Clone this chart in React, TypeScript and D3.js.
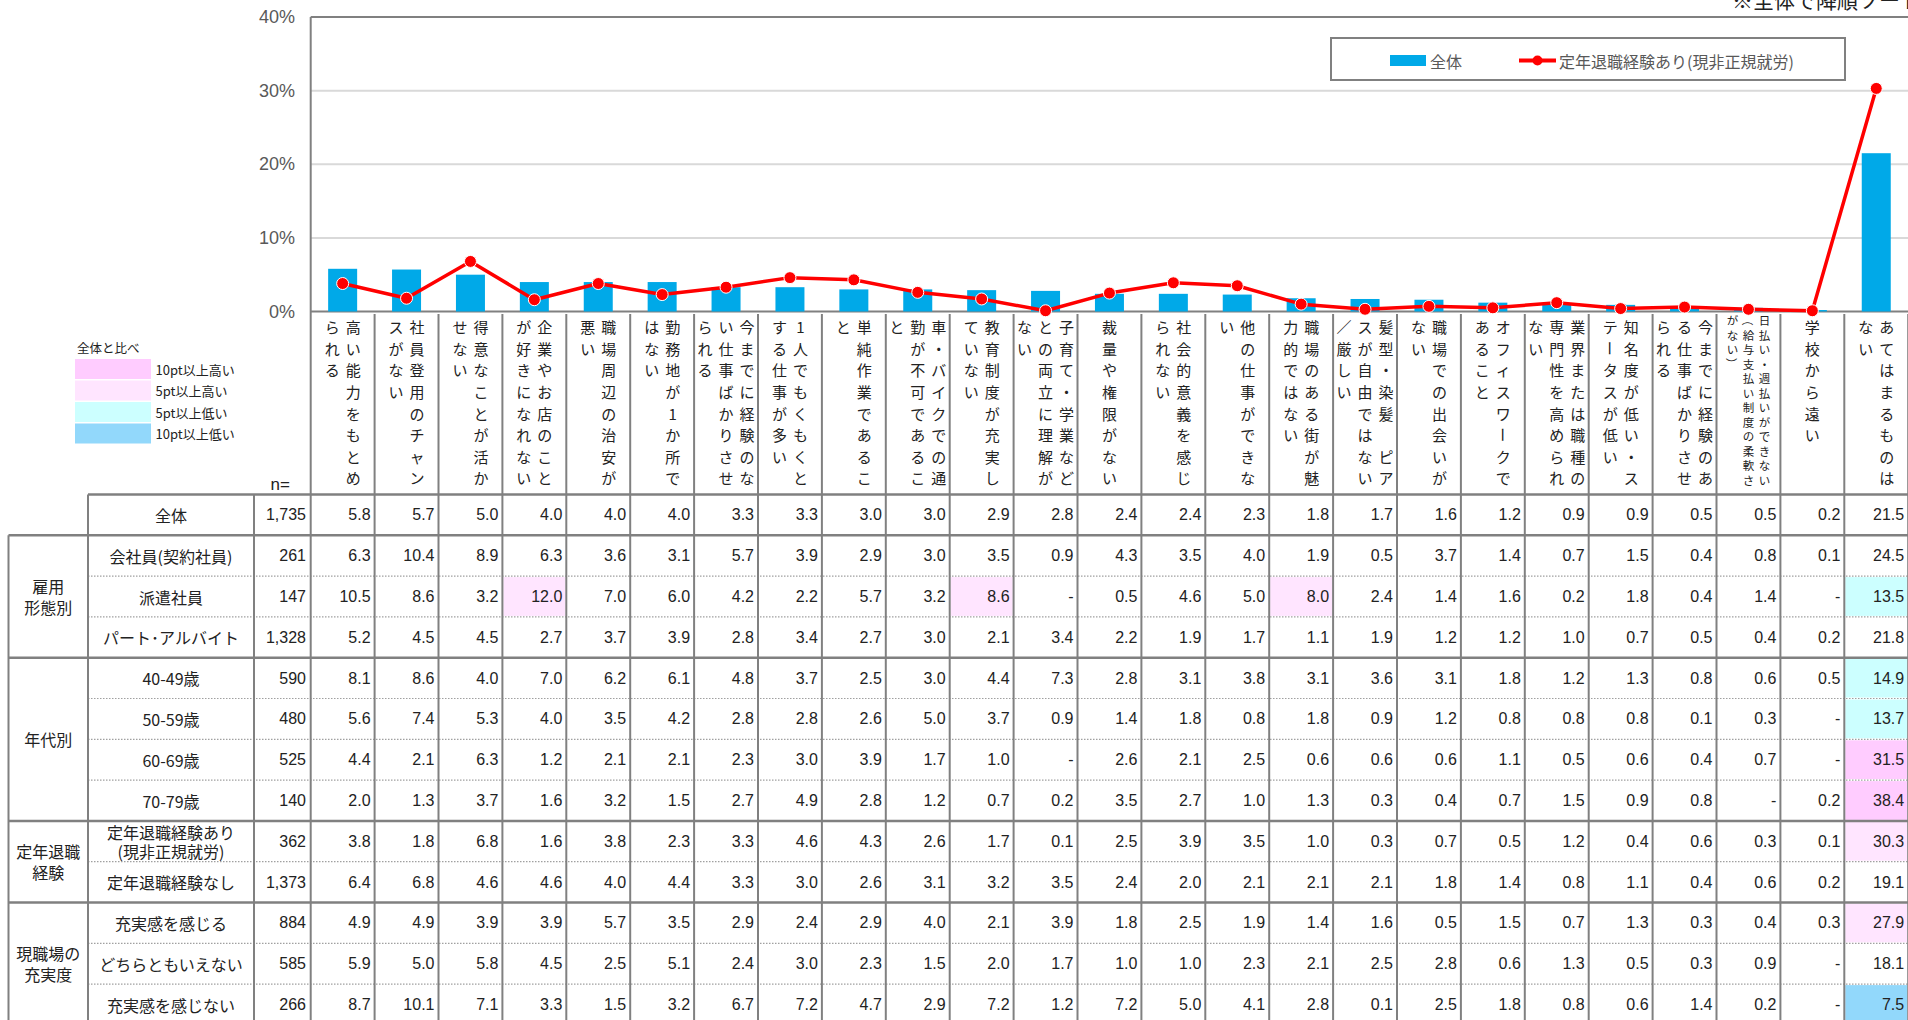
import { useEffect } from "react"
import * as d3 from "d3"

// categories, sorted by 全体 (descending) as in the source
const categories = [
  "高い能力をもとめられる",
  "社員登用のチャンスがない",
  "得意なことが活かせない",
  "企業やお店のことが好きになれない",
  "職場周辺の治安が悪い",
  "勤務地が1か所ではない",
  "今までに経験のない仕事ばかりさせられる",
  "1人でもくもくとする仕事が多い",
  "単純作業であること",
  "車・バイクでの通勤が不可であること",
  "教育制度が充実していない",
  "子育て・学業などとの両立に理解がない",
  "裁量や権限がない",
  "社会的意義を感じられない",
  "他の仕事ができない",
  "職場のある街が魅力的ではない",
  "髪型・染髪　ピアスが自由ではない／厳しい",
  "職場での出会いがない",
  "オフィスワークであること",
  "業界または職種の専門性を高められない",
  "知名度が低い・ステータスが低い",
  "今までに経験のある仕事ばかりさせられる",
  "日払い・週払いができない（給与支払い制度の柔軟さがない）",
  "学校から遠い",
  "あてはまるものはない",
]

const yTicks = [0, 10, 20, 30, 40]

// table rows (null = "-")
const valsAll = [5.8, 5.7, 5.0, 4.0, 4.0, 4.0, 3.3, 3.3, 3.0, 3.0, 2.9, 2.8, 2.4, 2.4, 2.3, 1.8, 1.7, 1.6, 1.2, 0.9, 0.9, 0.5, 0.5, 0.2, 21.5]
const valsKeiyaku = [6.3, 10.4, 8.9, 6.3, 3.6, 3.1, 5.7, 3.9, 2.9, 3.0, 3.5, 0.9, 4.3, 3.5, 4.0, 1.9, 0.5, 3.7, 1.4, 0.7, 1.5, 0.4, 0.8, 0.1, 24.5]
const valsHaken = [10.5, 8.6, 3.2, 12.0, 7.0, 6.0, 4.2, 2.2, 5.7, 3.2, 8.6, null, 0.5, 4.6, 5.0, 8.0, 2.4, 1.4, 1.6, 0.2, 1.8, 0.4, 1.4, null, 13.5]
const valsPart = [5.2, 4.5, 4.5, 2.7, 3.7, 3.9, 2.8, 3.4, 2.7, 3.0, 2.1, 3.4, 2.2, 1.9, 1.7, 1.1, 1.9, 1.2, 1.2, 1.0, 0.7, 0.5, 0.4, 0.2, 21.8]
const vals40 = [8.1, 8.6, 4.0, 7.0, 6.2, 6.1, 4.8, 3.7, 2.5, 3.0, 4.4, 7.3, 2.8, 3.1, 3.8, 3.1, 3.6, 3.1, 1.8, 1.2, 1.3, 0.8, 0.6, 0.5, 14.9]
const vals50 = [5.6, 7.4, 5.3, 4.0, 3.5, 4.2, 2.8, 2.8, 2.6, 5.0, 3.7, 0.9, 1.4, 1.8, 0.8, 1.8, 0.9, 1.2, 0.8, 0.8, 0.8, 0.1, 0.3, null, 13.7]
const vals60 = [4.4, 2.1, 6.3, 1.2, 2.1, 2.1, 2.3, 3.0, 3.9, 1.7, 1.0, null, 2.6, 2.1, 2.5, 0.6, 0.6, 0.6, 1.1, 0.5, 0.6, 0.4, 0.7, null, 31.5]
const vals70 = [2.0, 1.3, 3.7, 1.6, 3.2, 1.5, 2.7, 4.9, 2.8, 1.2, 0.7, 0.2, 3.5, 2.7, 1.0, 1.3, 0.3, 0.4, 0.7, 1.5, 0.9, 0.8, null, 0.2, 38.4]
const valsTeinenAri = [3.8, 1.8, 6.8, 1.6, 3.8, 2.3, 3.3, 4.6, 4.3, 2.6, 1.7, 0.1, 2.5, 3.9, 3.5, 1.0, 0.3, 0.7, 0.5, 1.2, 0.4, 0.6, 0.3, 0.1, 30.3]
const valsTeinenNashi = [6.4, 6.8, 4.6, 4.6, 4.0, 4.4, 3.3, 3.0, 2.6, 3.1, 3.2, 3.5, 2.4, 2.0, 2.1, 2.1, 2.1, 1.8, 1.4, 0.8, 1.1, 0.4, 0.6, 0.2, 19.1]
const valsJujitsu = [4.9, 4.9, 3.9, 3.9, 5.7, 3.5, 2.9, 2.4, 2.9, 4.0, 2.1, 3.9, 1.8, 2.5, 1.9, 1.4, 1.6, 0.5, 1.5, 0.7, 1.3, 0.3, 0.4, 0.3, 27.9]
const valsDochira = [5.9, 5.0, 5.8, 4.5, 2.5, 5.1, 2.4, 3.0, 2.3, 1.5, 2.0, 1.7, 1.0, 1.0, 2.3, 2.1, 2.5, 2.8, 0.6, 1.3, 0.5, 0.3, 0.9, null, 18.1]
const valsNoJujitsu = [8.7, 10.1, 7.1, 3.3, 1.5, 3.2, 6.7, 7.2, 4.7, 2.9, 7.2, 1.2, 7.2, 5.0, 4.1, 2.8, 0.1, 2.5, 1.8, 0.8, 0.6, 1.4, 0.2, null, 7.5]

const rowLabels = [
  "全体", "会社員(契約社員)", "派遣社員", "パート･アルバイト",
  "40-49歳", "50-59歳", "60-69歳", "70-79歳",
  "定年退職経験あり\n(現非正規就労)", "定年退職経験なし",
  "充実感を感じる", "どちらともいえない", "充実感を感じない",
]
const rowN = ["1,735", "261", "147", "1,328", "590", "480", "525", "140", "362", "1,373", "884", "585", "266"]
const tableValues = [valsAll, valsKeiyaku, valsHaken, valsPart, vals40, vals50, vals60, vals70, valsTeinenAri, valsTeinenNashi, valsJujitsu, valsDochira, valsNoJujitsu]

const groups = [
  { name: "雇用\n形態別", from: 1, to: 3 },
  { name: "年代別", from: 4, to: 7 },
  { name: "定年退職\n経験", from: 8, to: 9 },
  { name: "現職場の\n充実度", from: 10, to: 12 },
]

const shadeLegend = [
  { label: "10pt以上高い", color: "#ffccff" },
  { label: "5pt以上高い", color: "#ffe5ff" },
  { label: "5pt以上低い", color: "#ccffff" },
  { label: "10pt以上低い", color: "#92d8fb" },
]

const W = 1908
const H = 1020
const JP = "'Noto Sans CJK JP', 'Noto Sans', sans-serif"
const NUM = "'Liberation Sans', Arial, sans-serif"

function shade(v: number | null, base: number | null) {
  if (v == null || base == null) return null
  const d = Math.round((v - base) * 10) / 10
  if (d >= 10) return shadeLegend[0].color
  if (d >= 5) return shadeLegend[1].color
  if (d <= -10) return shadeLegend[3].color
  if (d <= -5) return shadeLegend[2].color
  return null
}

export default function App() {
  useEffect(() => {
    document.body.style.margin = "0"
    document.body.style.overflow = "hidden"
  }, [])

  const dataLeft = 310.7
  const colW = 63.9
  const x = d3.scaleBand<number>().domain(d3.range(categories.length)).range([dataLeft, dataLeft + colW * categories.length])
  const bw = x.bandwidth()
  const y = d3.scaleLinear().domain([0, 40]).range([311.5, 17])

  const tableTop = 494.5
  const rowH = 40.8
  const tableBottom = tableTop + rowH * rowLabels.length
  const outerX = 8.5
  const subX = 88
  const nX = 254

  const line = d3
    .line<number>()
    .x((_, i) => x(i)! + bw / 2)
    .y((d) => y(d))

  const groupEdges = new Set([1, 4, 8, 10, 13])
  const gridColor = "#d9d9d9"
  const border = "#808080"

  return (
    <svg width={W} height={H} style={{ position: "absolute", left: 0, top: 0, display: "block", background: "#fff" }} fontFamily={JP}>
      {/* note */}
      <text x={1732} y={8} fontSize={21} fill="#222">※全体で降順ソート</text>

      {/* gridlines */}
      {yTicks.slice(1, -1).map((t) => (
        <line key={t} x1={dataLeft} x2={W} y1={y(t)} y2={y(t)} stroke={gridColor} strokeWidth={2} />
      ))}
      <line x1={dataLeft} x2={W} y1={y(40)} y2={y(40)} stroke={border} strokeWidth={2} />
      <line x1={dataLeft} x2={W} y1={y(0)} y2={y(0)} stroke={border} strokeWidth={2} />
      {yTicks.map((t) => (
        <text key={t} x={295} y={y(t)} textAnchor="end" dominantBaseline="central" fontSize={18} fill="#595959" fontFamily={NUM}>
          {t}%
        </text>
      ))}

      {/* bars */}
      {valsAll.map((v, i) => (
        <rect key={i} x={x(i)! + bw / 2 - 14.5} y={y(v)} width={29} height={y(0) - y(v)} fill="#00a9e8" />
      ))}

      {/* line */}
      <path d={line(valsTeinenAri)!} fill="none" stroke="#ff0000" strokeWidth={3.5} strokeLinejoin="round" />
      {valsTeinenAri.map((v, i) => (
        <circle key={i} cx={x(i)! + bw / 2} cy={y(v)} r={6} fill="#ff0000" stroke="#fff" strokeWidth={1} />
      ))}

      {/* chart legend */}
      <rect x={1331} y={38} width={514} height={42} fill="#fff" stroke={border} strokeWidth={2} />
      <rect x={1390} y={55} width={36} height={11} fill="#00a9e8" />
      <text x={1430} y={60.5} dominantBaseline="central" fontSize={16} fill="#595959">全体</text>
      <line x1={1519} x2={1556} y1={60.5} y2={60.5} stroke="#ff0000" strokeWidth={4} />
      <circle cx={1537.5} cy={60.5} r={5} fill="#ff0000" />
      <text x={1559} y={60.5} dominantBaseline="central" fontSize={16} fill="#595959">定年退職経験あり(現非正規就労)</text>

      {/* shading legend */}
      <text x={77} y={347} dominantBaseline="central" fontSize={12.5} fill="#222">全体と比べ</text>
      {shadeLegend.map((s, i) => (
        <g key={s.label}>
          <rect x={75} y={359 + i * 21.5} width={76} height={20} fill={s.color} />
          <text x={155.5} y={369 + i * 21.5} dominantBaseline="central" fontSize={13} fill="#222">{s.label}</text>
        </g>
      ))}

      {/* vertical category labels */}
      {categories.map((label, i) => {
        const chars = [...label]
        const per = chars.length > 24 ? 12 : 8
        const small = per === 12
        const cols = d3.range(Math.ceil(chars.length / per)).map((k) => chars.slice(k * per, (k + 1) * per))
        const pitchX = small ? 16 : 21
        const pitchY = small ? 14.5 : 21.6
        const y0 = small ? 320 : 326.7
        const cx = x(i)! + bw / 2
        return (
          <g key={label}>
            {cols.flatMap((col, j) =>
              col.map((ch, k) => {
                const px = cx + ((cols.length - 1) / 2 - j) * pitchX
                const py = y0 + k * pitchY
                const rot = "ー（）".includes(ch)
                return (
                  <text
                    key={`${j}-${k}`}
                    x={px}
                    y={py}
                    textAnchor="middle"
                    dominantBaseline="central"
                    fontSize={small ? 11.5 : 15}
                    fill="#222"
                    transform={rot ? `rotate(90 ${px} ${py})` : undefined}
                  >
                    {ch}
                  </text>
                )
              })
            )}
          </g>
        )
      })}

      {/* n= */}
      <text x={290} y={484} textAnchor="end" dominantBaseline="central" fontSize={17} fill="#222" fontFamily={NUM}>n=</text>

      {/* cell shading */}
      {tableValues.map((row, r) =>
        row.map((v, c) => {
          const fill = shade(v, valsAll[c])
          return fill ? (
            <rect key={`${r}-${c}`} x={x(c)! + 1} y={tableTop + r * rowH + 1} width={bw - 2} height={rowH - 2} fill={fill} />
          ) : null
        })
      )}

      {/* table values */}
      {tableValues.map((row, r) => (
        <g key={r}>
          {row.map((v, c) => (
            <text key={c} x={x(c)! + bw - 4} y={tableTop + r * rowH + rowH / 2} textAnchor="end" dominantBaseline="central" fontSize={16} fill="#222" fontFamily={NUM}>
              {v == null ? "-" : v.toFixed(1)}
            </text>
          ))}
          <text x={nX + 52} y={tableTop + r * rowH + rowH / 2} textAnchor="end" dominantBaseline="central" fontSize={16} fill="#222" fontFamily={NUM}>
            {rowN[r]}
          </text>
          {rowLabels[r].split("\n").map((t, k, arr) => (
            <text key={k} x={(subX + nX) / 2} y={tableTop + r * rowH + rowH / 2 + (k - (arr.length - 1) / 2) * 19} textAnchor="middle" dominantBaseline="central" fontSize={16} fill="#222">
              {t}
            </text>
          ))}
        </g>
      ))}

      {/* group labels */}
      {groups.map((g) => {
        const cy = tableTop + ((g.from + g.to + 1) / 2) * rowH
        const lines = g.name.split("\n")
        return lines.map((t, k) => (
          <text key={g.name + k} x={(outerX + subX) / 2} y={cy + (k - (lines.length - 1) / 2) * 21} textAnchor="middle" dominantBaseline="central" fontSize={16} fill="#222">
            {t}
          </text>
        ))
      })}

      {/* table horizontal lines */}
      <line x1={subX} x2={W} y1={tableTop} y2={tableTop} stroke={border} strokeWidth={2.5} />
      {d3.range(1, rowLabels.length + 1).map((r) => {
        const yy = tableTop + r * rowH
        return groupEdges.has(r) ? (
          <line key={r} x1={outerX} x2={W} y1={yy} y2={yy} stroke={border} strokeWidth={2.5} />
        ) : (
          <line key={r} x1={subX} x2={W} y1={yy} y2={yy} stroke="#a0a0a0" strokeWidth={1.2} strokeDasharray="1.5 1.5" />
        )
      })}

      {/* vertical lines */}
      <line x1={outerX} x2={outerX} y1={tableTop + rowH} y2={tableBottom} stroke={border} strokeWidth={2} />
      <line x1={subX} x2={subX} y1={tableTop} y2={tableBottom} stroke={border} strokeWidth={2} />
      <line x1={nX} x2={nX} y1={tableTop} y2={tableBottom} stroke={border} strokeWidth={2} />
      <line x1={dataLeft} x2={dataLeft} y1={y(40)} y2={tableBottom} stroke={border} strokeWidth={2} />
      {d3.range(1, categories.length + 1).map((c) => {
        const xx = c === categories.length ? x.range()[1] : x(c)!
        return <line key={c} x1={xx} x2={xx} y1={314} y2={tableBottom} stroke={border} strokeWidth={2} />
      })}
    </svg>
  )
}
